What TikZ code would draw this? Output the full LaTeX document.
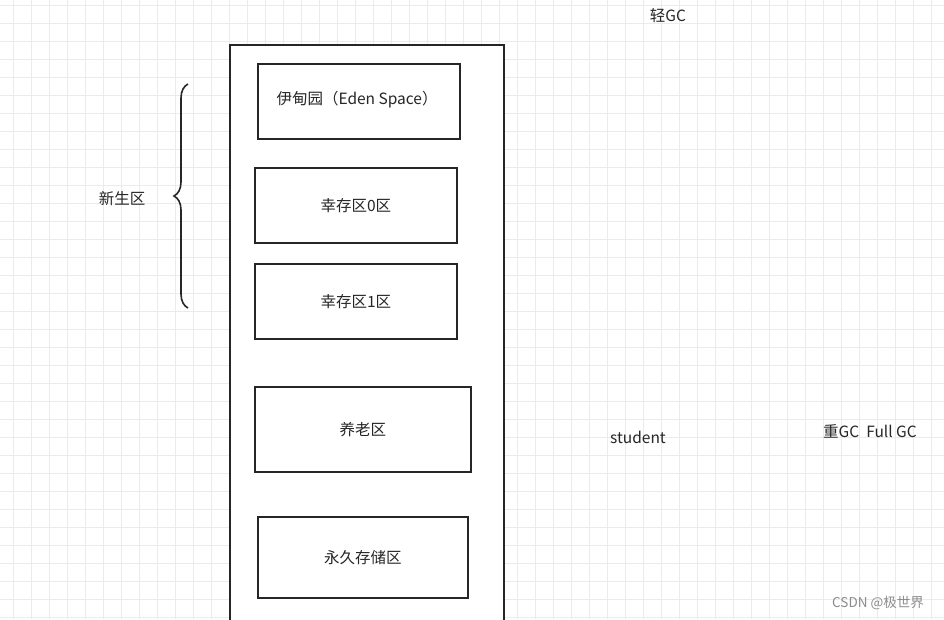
\documentclass[tikz,border=0pt]{standalone}
\usepackage{fontspec}
\setmainfont{Noto Sans CJK SC}
\usetikzlibrary{decorations.pathreplacing}
\begin{document}
\begin{tikzpicture}[x=1pt,y=-1pt,
  box/.style={draw=black!85,line width=1.6pt},
  lbl/.style={font=\fontsize{15.5}{17}\selectfont,text=black!85}]
\useasboundingbox (0,0) rectangle (944,619);
\fill[white] (0,0) rectangle (944,619);
\foreach \i in {0,...,52} {\draw[black!8,line width=0.7pt] (13+18*\i,0) -- (13+18*\i,619);}
\foreach \i in {0,...,34} {\draw[black!8,line width=0.7pt] (0,5+18*\i) -- (944,5+18*\i);}
\draw[box,fill=white] (230,621) -- (230,45) -- (504,45) -- (504,621);
\node[box,fill=white,minimum width=202pt,minimum height=75pt,anchor=north west] (eden) at (257,63) {};
\node[lbl,anchor=west] (edent) at (273,100) {伊甸园（Eden Space）};
\node[box,minimum width=202pt,minimum height=75pt,anchor=north west,lbl] (s0) at (254,167) {幸存区0区};
\node[box,minimum width=202pt,minimum height=75pt,anchor=north west,lbl] (s1) at (254,263) {幸存区1区};
\node[box,minimum width=216pt,minimum height=85pt,anchor=north west,lbl] (old) at (254,386) {养老区};
\node[box,minimum width=210pt,minimum height=81pt,anchor=north west,lbl] (perm) at (257,516) {永久存储区};
\coordinate (bt) at (188,84); \coordinate (bb) at (188,308);
\draw[black!85,line width=1.6pt,decorate,decoration={brace,amplitude=14pt}] (bb) -- (bt);
\node[lbl] (young) at (122,199) {新生区};
\node[lbl] (light) at (668,16) {轻GC};
\node[lbl] (stu) at (638,437) {student};
\node[lbl] (full) at (870,431) {重GC\ \ Full GC};
\node[lbl,text=black!45,font=\fontsize{13.5}{15}\selectfont] (wm) at (878,603) {CSDN @极世界};
\end{tikzpicture}
\end{document}
